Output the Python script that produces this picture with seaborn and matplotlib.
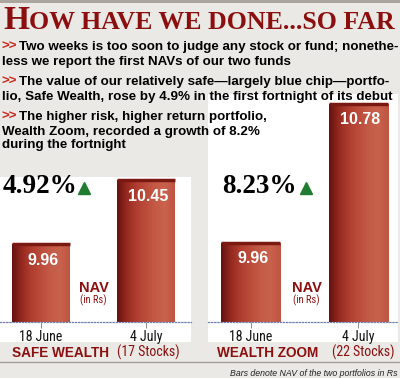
import numpy as np
import seaborn as sns
import matplotlib.pyplot as plt
from matplotlib.colors import LinearSegmentedColormap
from matplotlib.lines import Line2D
from matplotlib.patches import Rectangle

# data
dates = ["18 June", "4 July"]
safe_nav = [9.96, 10.45]
zoom_nav = [9.96, 10.78]
safe_growth = "4.92%"
zoom_growth = "8.23%"
safe_label = ("SAFE WEALTH", "(17 Stocks)")
zoom_label = ("WEALTH ZOOM", "(22 Stocks)")
title_first = "H"
title_rest = "OW HAVE WE DONE...SO FAR"
bullets = [
    (True, "Two weeks is too soon to judge any stock or fund; nonethe-"),
    (False, "less we report the first NAVs of our two funds"),
    (True, "The value of our relatively safe\u2014largely blue chip\u2014portfo-"),
    (False, "lio, Safe Wealth, rose by 4.9% in the first fortnight of its debut"),
    (True, "The higher risk, higher return portfolio,"),
    (False, "Wealth Zoom, recorded a growth of 8.2%"),
    (False, "during the fortnight"),
]
footnote = "Bars denote NAV of the two portfolios in Rs"

BG = "#ebe9e5"
DARKRED = "#8c0f0f"
SANS = ["Liberation Sans", "DejaVu Sans"]
NARROW = ["Roboto Condensed", "Liberation Sans Narrow", "Liberation Sans"]
SERIF = ["Liberation Serif", "DejaVu Serif"]

sns.set_theme(style="white")
plt.rcParams["font.family"] = SANS

W, H = 400, 378
fig = plt.figure(figsize=(W / 100, H / 100), dpi=100, facecolor=BG)


def fx(x):
    return x / W


def fy(y):
    return 1 - y / H


# top band
fig.add_artist(Rectangle((0, fy(3)), 1, 3 / H, transform=fig.transFigure,
                         facecolor="#aba59e", edgecolor="none", zorder=-1))

# title in small caps
fig.text(fx(3), fy(29), title_first, family=SERIF, fontweight="bold",
         fontsize=24, color=DARKRED, va="baseline")
fig.text(fx(29), fy(29), title_rest, family=SERIF, fontweight="bold",
         fontsize=18.6, color=DARKRED, va="baseline")

# bullet text
for (arrow, line), y in zip(bullets, [50, 65, 85, 100, 120, 135, 148]):
    if arrow:
        fig.text(fx(2), fy(y), ">>", color="#c8281c", fontweight="bold",
                 fontsize=9.6, va="baseline")
        fig.text(fx(19), fy(y), line, color="black", fontweight="bold",
                 fontsize=9.6, va="baseline")
    else:
        fig.text(fx(2), fy(y), line, color="black", fontweight="bold",
                 fontsize=9.6, va="baseline")

bar_cmap = LinearSegmentedColormap.from_list(
    "bar", ["#661310", "#962a20", "#b03e30", "#bb4c3b", "#c45b47",
            "#c8624d", "#bf5442"])


def draw_panel(left, right, top, values, xlim, ylim, growth, gx, tri_x,
               nav_x, name, name_x):
    # white backing box
    fig.add_artist(Rectangle((fx(left), fy(342)), fx(right) - fx(left),
                             (342 - top) / H, transform=fig.transFigure,
                             facecolor="white", edgecolor="none", zorder=-1))
    ax = fig.add_axes([fx(left), fy(322), fx(right) - fx(left),
                       (322 - top) / H])
    sns.barplot(x=dates, y=values, ax=ax, width=0.55, color="#b0402f",
                saturation=1, edgecolor="none")
    ax.patch.set_alpha(0)
    for p in ax.patches:
        x0, w, h = p.get_x(), p.get_width(), p.get_height()
        im = ax.imshow(np.linspace(0, 1, 64)[None, :], cmap=bar_cmap,
                       extent=(x0, x0 + w, ylim[0], h), aspect="auto",
                       origin="lower", zorder=p.get_zorder() + 0.1)
        im.set_clip_path(p)
        # darker top rim
        ax.plot([x0, x0 + w], [h, h], color="#7a1912", linewidth=2.5,
                solid_capstyle="butt", zorder=p.get_zorder() + 0.2)
    for i, v in enumerate(values):
        ax.annotate(f"{v:.2f}", xy=(i, v), xytext=(2, -16),
                    textcoords="offset pixels", ha="center", va="center",
                    color="white", fontweight="bold", fontsize=11.5)
    ax.set_xlim(*xlim)
    ax.set_ylim(*ylim)
    ax.set_yticks([])
    ax.set_xlabel("")
    ax.set_ylabel("")
    for s in ["left", "right", "top"]:
        ax.spines[s].set_visible(False)
    ax.spines["bottom"].set_linestyle((0, (1, 1.5)))
    ax.spines["bottom"].set_color("#7080a8")
    ax.spines["bottom"].set_linewidth(0.9)
    ax.tick_params(axis="x", bottom=True, length=4, width=0.7,
                   color="#8a8a8a", pad=1.5, labelsize=10,
                   labelcolor="#111111", labelfontfamily=NARROW[0])

    # growth figure and arrow
    fig.text(fx(gx), fy(193), growth, family=SERIF, fontweight="bold",
             fontsize=19.5, color="black", va="baseline")
    fig.add_artist(Line2D([fx(tri_x)], [fy(187.5)], marker="^",
                          markersize=9, color="#1e7b30", linestyle="none",
                          transform=fig.transFigure))
    # NAV note
    fig.text(fx(nav_x), fy(292), "NAV", color=DARKRED, fontweight="bold",
             fontsize=10.5, va="baseline")
    fig.text(fx(nav_x + 1), fy(303), "(in Rs)", color=DARKRED, fontsize=7.5,
             va="baseline", family=NARROW)
    # panel name
    fig.text(fx(name_x[0]), fy(357), name[0], color=DARKRED, fontweight="bold",
             fontsize=9.8, va="baseline")
    fig.text(fx(name_x[1]), fy(357), name[1], color=DARKRED, fontsize=10,
             va="baseline", family=NARROW)
    return ax


draw_panel(0, 191, 177, safe_nav, (-0.39, 1.43), (9.364, 10.473), safe_growth,
           3, 84, 79, safe_label, (12, 117))
draw_panel(208, 398, 94, zoom_nav, (-0.40, 1.37), (9.491, 10.839), zoom_growth,
           222, 306, 292, zoom_label, (217, 332))

# rule and footnote
fig.add_artist(Line2D([0, 1], [fy(362), fy(362)], color="#a39d97",
                      linewidth=1, transform=fig.transFigure))
fig.text(fx(398), fy(376), footnote, ha="right", va="baseline",
         fontsize=6.3, style="italic", color="#222222")

fig.savefig("out.png", dpi=100, facecolor=BG)
